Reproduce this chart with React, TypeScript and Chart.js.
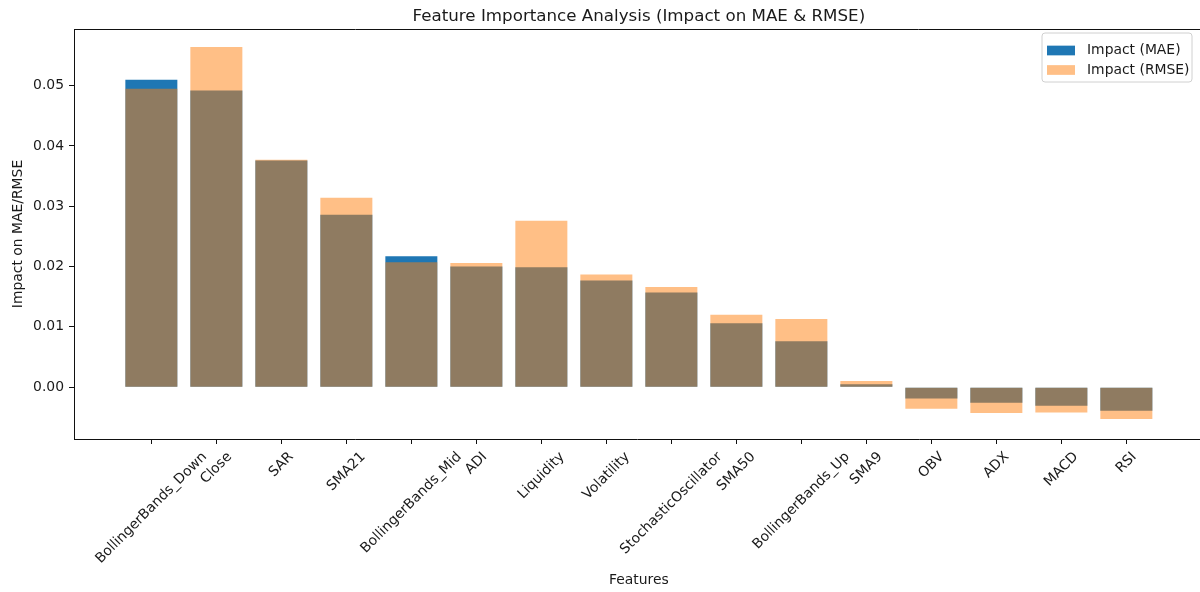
import React, { useEffect, useRef } from "react";
import { Chart, registerables } from "chart.js";

Chart.register(...registerables);

const features = [
  "BollingerBands_Down", "Close", "SAR", "SMA21", "BollingerBands_Mid", "ADI",
  "Liquidity", "Volatility", "StochasticOscillator", "SMA50", "BollingerBands_Up",
  "SMA9", "OBV", "ADX", "MACD", "RSI",
];
const maeImpact = [
  0.0510, 0.0492, 0.0376, 0.0286, 0.0217, 0.0200, 0.0199, 0.0177, 0.0157,
  0.0106, 0.0076, 0.0005, -0.0019, -0.0026, -0.0031, -0.0039,
];
const rmseImpact = [
  0.0495, 0.0564, 0.0377, 0.0314, 0.0207, 0.0206, 0.0276, 0.0187, 0.0166,
  0.0120, 0.0113, 0.0010, -0.0036, -0.0043, -0.0042, -0.0053,
];
const yTicks = [0.0, 0.01, 0.02, 0.03, 0.04, 0.05];
const seriesLabels = ["Impact (MAE)", "Impact (RMSE)"];
const titleText = "Feature Importance Analysis (Impact on MAE & RMSE)";
const xTitle = "Features";
const yTitle = "Impact on MAE/RMSE";

const FONT = "'DejaVu Sans', sans-serif";
const FS = 13.9;
const TXT = "#1a1a1a";

const decorPlugin = {
  id: "mplDecor",
  afterDraw(chart: any) {
    const ctx = chart.ctx;
    const area = chart.chartArea;
    const xs = chart.scales.x;
    ctx.save();
    // top spine
    ctx.strokeStyle = "#111";
    ctx.lineWidth = 1;
    ctx.beginPath();
    ctx.moveTo(area.left, area.top + 0.5);
    ctx.lineTo(area.right, area.top + 0.5);
    ctx.stroke();

    // title
    ctx.fillStyle = TXT;
    const cx = xs.getPixelForValue(7.5);
    ctx.font = `16.7px ${FONT}`;
    ctx.textAlign = "center";
    ctx.textBaseline = "alphabetic";
    ctx.fillText(titleText, cx, area.top - 8);

    // x labels, rotated 45°, centered on tick (matplotlib style)
    ctx.font = `${FS}px ${FONT}`;
    const y0 = area.bottom + 10;
    const h = FS * 1.164;
    features.forEach((lab, i) => {
      const tx = xs.getPixelForValue(i);
      const w = ctx.measureText(lab).width;
      const side = (w + h) / Math.SQRT2;
      ctx.save();
      ctx.translate(tx, y0 + side / 2);
      ctx.rotate(-Math.PI / 4);
      ctx.textAlign = "center";
      ctx.textBaseline = "middle";
      ctx.fillText(lab, 0, 0);
      ctx.restore();
    });

    // x title
    ctx.textAlign = "center";
    ctx.textBaseline = "alphabetic";
    ctx.fillText(xTitle, cx, 584);

    // y title
    ctx.save();
    ctx.translate(18, (area.top + area.bottom) / 2);
    ctx.rotate(-Math.PI / 2);
    ctx.textAlign = "center";
    ctx.textBaseline = "middle";
    ctx.fillText(yTitle, 0, 0);
    ctx.restore();

    // legend
    const lx = 1042, ly = 33, lw = 150, lh = 49;
    ctx.beginPath();
    const r = 3;
    ctx.moveTo(lx + r, ly);
    ctx.lineTo(lx + lw - r, ly);
    ctx.quadraticCurveTo(lx + lw, ly, lx + lw, ly + r);
    ctx.lineTo(lx + lw, ly + lh - r);
    ctx.quadraticCurveTo(lx + lw, ly + lh, lx + lw - r, ly + lh);
    ctx.lineTo(lx + r, ly + lh);
    ctx.quadraticCurveTo(lx, ly + lh, lx, ly + lh - r);
    ctx.lineTo(lx, ly + r);
    ctx.quadraticCurveTo(lx, ly, lx + r, ly);
    ctx.closePath();
    ctx.fillStyle = "rgba(255,255,255,0.8)";
    ctx.fill();
    ctx.strokeStyle = "#d0d0d0";
    ctx.lineWidth = 1;
    ctx.stroke();
    const rows = [50.5, 70];
    chart.data.datasets.forEach((ds: any, i: number) => {
      const cy = rows[i];
      ctx.fillStyle = ds.backgroundColor;
      ctx.fillRect(lx + 5, cy - 4.85, 28, 9.7);
      ctx.fillStyle = TXT;
      ctx.font = `${FS}px ${FONT}`;
      ctx.textAlign = "left";
      ctx.textBaseline = "middle";
      ctx.fillText(ds.label, lx + 45, cy);
    });
    ctx.restore();
  },
};

export default function App() {
  const ref = useRef<HTMLCanvasElement | null>(null);

  useEffect(() => {
    document.body.style.margin = "0";
    document.body.style.overflow = "hidden";
    const canvas = ref.current;
    if (!canvas) return;
    const chart = new Chart(canvas, {
      type: "bar",
      data: {
        datasets: [
          {
            label: seriesLabels[0],
            data: maeImpact.map((v, i) => ({ x: i, y: v })),
            backgroundColor: "#1f77b4",
            borderWidth: 0,
            order: 1,
          },
          {
            label: seriesLabels[1],
            data: rmseImpact.map((v, i) => ({ x: i, y: v })),
            backgroundColor: "rgba(255,127,14,0.5)",
            borderWidth: 0,
            order: 0,
          },
        ],
      },
      options: {
        animation: false,
        responsive: false,
        maintainAspectRatio: false,
        devicePixelRatio: 1,
        layout: { padding: { top: 29, left: 0, right: 0, bottom: 0 } },
        datasets: {
          bar: { grouped: false, categoryPercentage: 1.0, barPercentage: 0.8 },
        },
        plugins: {
          legend: { display: false },
          title: { display: false },
          tooltip: { enabled: false },
        },
        scales: {
          x: {
            type: "linear",
            offset: false,
            min: -1.19,
            max: 16.133,
            afterBuildTicks: (s: any) => {
              s.ticks = features.map((_, i) => ({ value: i }));
            },
            afterFit: (s: any) => {
              s.height = 592 - 439;
            },
            ticks: { display: false },
            grid: {
              display: true,
              offset: false,
              drawOnChartArea: false,
              drawTicks: true,
              tickLength: 5,
              color: "#111",
              lineWidth: 1,
            },
            border: { display: true, color: "#111", width: 1 },
          },
          y: {
            type: "linear",
            min: -0.0086,
            max: 0.0594,
            afterBuildTicks: (s: any) => {
              s.ticks = yTicks.map((v) => ({ value: v }));
            },
            afterFit: (s: any) => {
              s.width = 74;
            },
            ticks: {
              padding: 5,
              color: TXT,
              font: { family: FONT, size: FS },
              callback: (v: any) => Number(v).toFixed(2),
            },
            grid: {
              display: true,
              drawOnChartArea: false,
              drawTicks: true,
              tickLength: 5,
              color: "#111",
              lineWidth: 1,
            },
            border: { display: true, color: "#111", width: 1 },
          },
        },
      },
      plugins: [decorPlugin],
    });
    return () => chart.destroy();
  }, []);

  return (
    <div style={{ position: "fixed", left: 0, top: 0, width: 1200, height: 592, background: "#fff" }}>
      <canvas ref={ref} width={1200} height={592} style={{ display: "block", width: 1200, height: 592 }} />
    </div>
  );
}
